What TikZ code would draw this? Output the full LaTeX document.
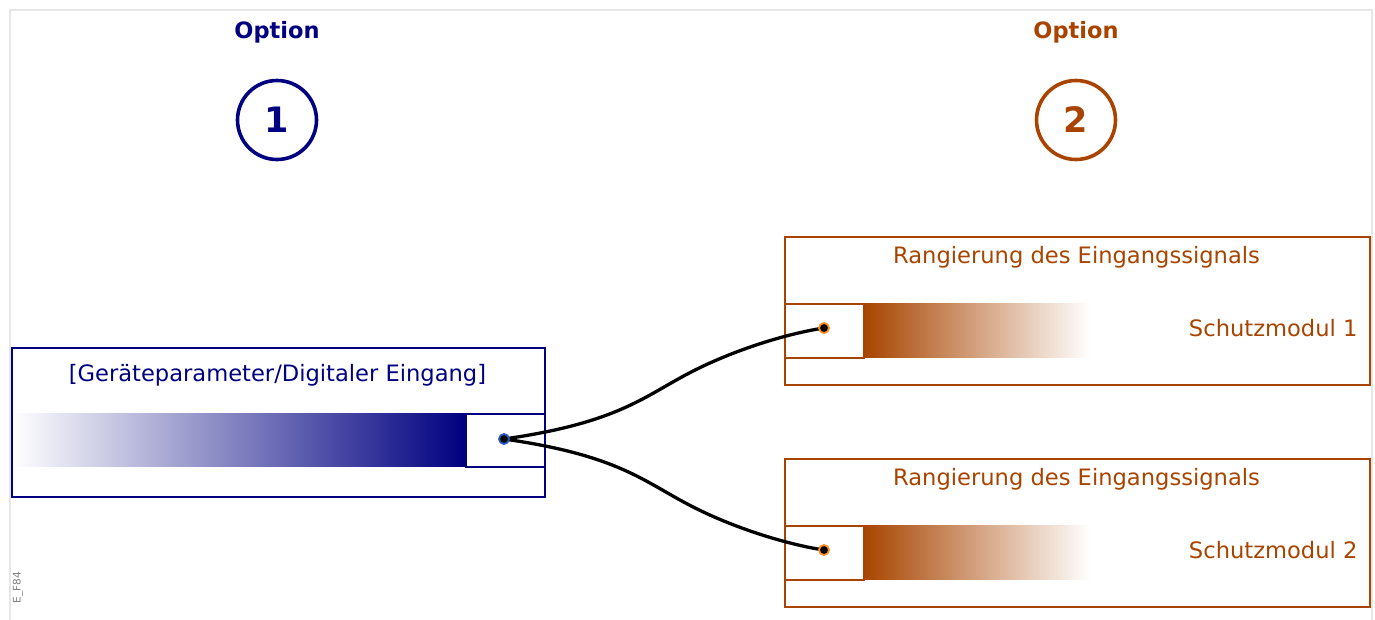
\documentclass[tikz,border=0pt]{standalone}
\usepackage{fontspec}
\setmainfont{DejaVu Sans}
\pgfdeclarelayer{foreground}
\pgfsetlayers{main,foreground}
\definecolor{navyc}{RGB}{0,0,128}
\definecolor{rust}{RGB}{168,68,0}
\definecolor{dotorange}{RGB}{255,140,30}
\definecolor{dotblue}{RGB}{40,90,200}
\definecolor{framegray}{RGB}{230,230,230}
\tikzset{
  px/.style={x=1pt,y=-1pt},
  blk/.style={draw, line width=2pt, minimum width=#1, inner sep=0pt, anchor=north west},
  optlabel/.style={font=\fontsize{22.5}{26}\selectfont\bfseries},
  numcircle/.style={circle, draw, line width=3.6pt, minimum size=79pt, inner sep=0pt, font=\fontsize{35}{40}\selectfont\bfseries},
  boxtitle/.style={font=\fontsize{22.6}{26}\selectfont},
  dotnode/.style={circle, fill=black, draw=#1, line width=1.8pt, minimum size=10pt, inner sep=0pt},
  wire/.style={line width=3.3pt, black},
}
\begin{document}
\begin{tikzpicture}[px]
\useasboundingbox (0,0) rectangle (1375,619);
\draw[framegray, line width=2pt] (10,622) -- (10,10) -- (1372,10) -- (1372,622);

% Option 1
\node[optlabel, text=navyc] (opt1) at (277,32) {Option};
\node[numcircle, draw=navyc, text=navyc] (c1) at (277,120) {1};
% Option 2
\node[optlabel, text=rust] (opt2) at (1076,32) {Option};
\node[numcircle, draw=rust, text=rust] (c2) at (1076,120) {2};

% Left block
\shade[left color=white, right color=navyc, shading=axis] (13,413) rectangle (465,466);
\node[blk=533pt, minimum height=149pt, draw=navyc] (L) at (11,347) {};
\node[blk=79pt, minimum height=53pt, draw=navyc, fill=white] (Lport) at (465,413) {};
\node[boxtitle, text=navyc] (Ltitle) at (277.5,375) {[Geräteparameter/Digitaler Eingang]};

% Right block 1
\node[blk=585pt, minimum height=148pt, draw=rust] (R1) at (784,236) {};
\shade[left color=rust, right color=white, shading=axis] (863,303) rectangle (1090,357);
\node[blk=79pt, minimum height=54pt, draw=rust, fill=white] (R1port) at (784,303) {};
\node[boxtitle, text=rust] (R1title) at (1076.5,257) {Rangierung des Eingangssignals};
\node[boxtitle, text=rust, anchor=east] (R1name) at (1361,328) {Schutzmodul 1};

% Right block 2
\node[blk=585pt, minimum height=148pt, draw=rust] (R2) at (784,458) {};
\shade[left color=rust, right color=white, shading=axis] (863,525) rectangle (1090,579);
\node[blk=79pt, minimum height=54pt, draw=rust, fill=white] (R2port) at (784,525) {};
\node[boxtitle, text=rust] (R2title) at (1076.5,479) {Rangierung des Eingangssignals};
\node[boxtitle, text=rust, anchor=east] (R2name) at (1361,550) {Schutzmodul 2};

% Dots
\begin{pgfonlayer}{foreground}
\node[dotnode=dotblue] (d0) at (504,439) {};
\node[dotnode=dotorange] (d1) at (824,328) {};
\node[dotnode=dotorange] (d2) at (824,550) {};
\end{pgfonlayer}

% Wires
\draw[wire] (d0.center) .. controls (610,424) and (640,400) .. (680,378) .. controls (730,350) and (790,333) .. (d1.center);
\draw[wire] (d0.center) .. controls (610,454) and (640,478) .. (680,500) .. controls (730,528) and (790,545) .. (d2.center);

% ID
\node[rotate=90, text=gray, font=\fontsize{10.5}{12}\selectfont, anchor=west] (id) at (18,607) {E\_F84};
\end{tikzpicture}
\end{document}
